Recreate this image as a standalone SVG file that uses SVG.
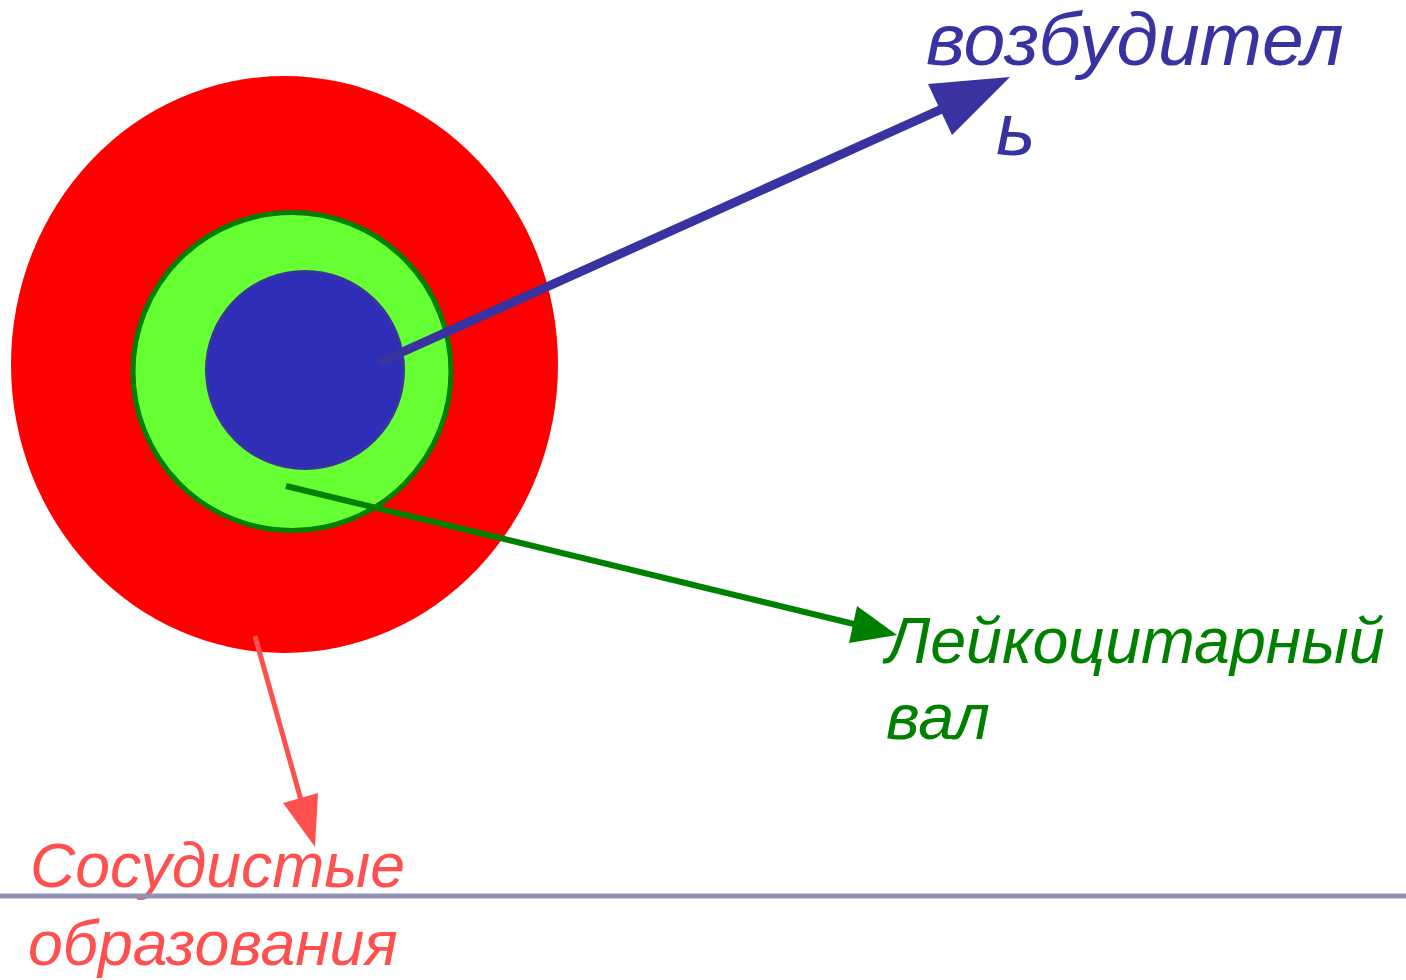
<svg xmlns="http://www.w3.org/2000/svg" width="1406" height="980" viewBox="0 0 1406 980">
<style>
text{font-family:"Liberation Sans",Arial,sans-serif;font-style:italic}
.blue{fill:#3833A0}
.green{fill:#008000}
.red{fill:#FF5050}
</style>
<rect width="1406" height="980" fill="#fff"/>
<g id="node-outer">
<ellipse cx="284.5" cy="364.5" rx="273.5" ry="288.5" fill="#FF0000"/>
</g>
<g id="node-middle">
<circle cx="292" cy="371.5" r="159" fill="#66FF33" stroke="#008000" stroke-width="5"/>
</g>
<g id="node-inner">
<circle cx="305" cy="370" r="98.5" fill="#2F2EB6" stroke="#3A33A0" stroke-width="3"/>
</g>
<g id="connectors">
<line x1="378" y1="363" x2="944" y2="108" stroke="#3833A0" stroke-width="9"/>
<polygon points="1010,77 928,84 952,135" fill="#3833A0"/>
<line x1="286" y1="486" x2="858" y2="625" stroke="#008000" stroke-width="6"/>
<polygon points="897,635 857,606 849,643" fill="#008000"/>
<line x1="255" y1="636" x2="301" y2="800" stroke="#FF5050" stroke-width="5"/>
<polygon points="315,847 283,803 318,793" fill="#FF5050"/>
</g>
<g id="label-pathogen">
<text class="blue" font-size="75" x="926" y="65">возбудител</text>
<text class="blue" font-size="75" x="996" y="155">ь</text>
</g>
<g id="label-leukocyte">
<text class="green" font-size="64.5" x="886" y="663">Лейкоцитарный</text>
<text class="green" font-size="64.5" x="886" y="739">вал</text>
</g>
<g id="label-vessels">
<text class="red" font-size="62.5" x="30" y="887">Сосудистые</text>
<text class="red" font-size="62.5" x="28" y="965">образования</text>
</g>
<g id="baseline">
<line x1="0" y1="896" x2="1406" y2="896" stroke="#8F93B8" stroke-width="5"/>
</g>
</svg>
